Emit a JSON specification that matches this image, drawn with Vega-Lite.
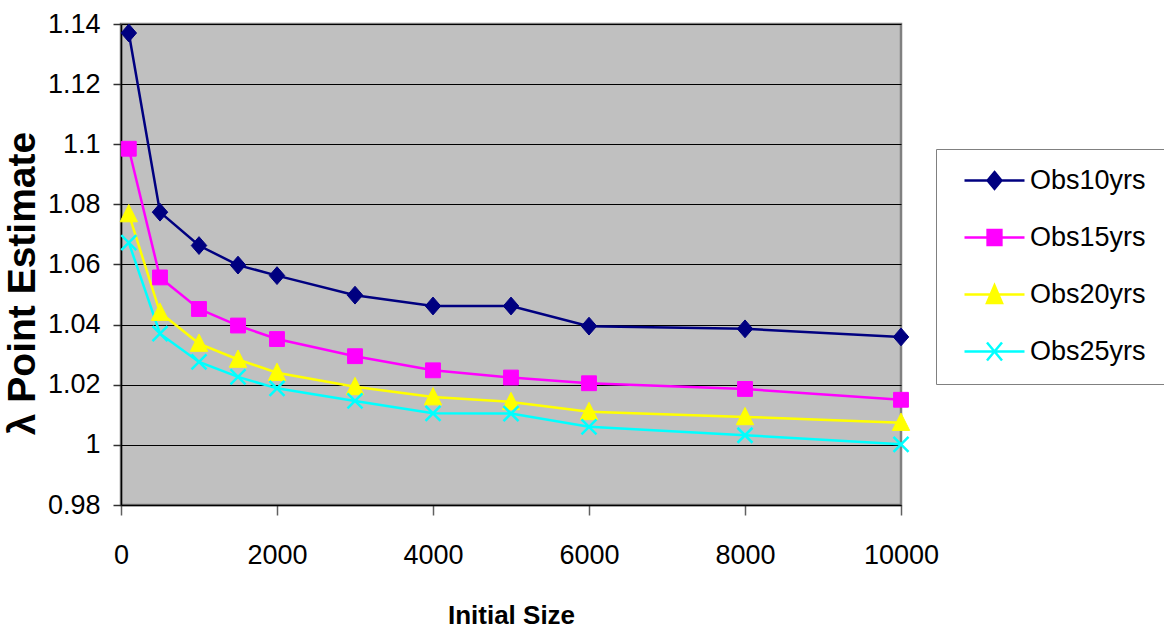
{
  "$schema": "https://vega.github.io/schema/vega-lite/v6.json",
  "autosize": "none",
  "width": 780,
  "height": 481,
  "padding": {"left": 121, "top": 24, "right": 263, "bottom": 127},
  "background": "white",
  "config": {
    "view": {"fill": "#c0c0c0", "stroke": "#808080", "strokeWidth": 2.5},
    "font": "Liberation Sans, Arial"
  },
  "data": {
    "values": [
      {"series": "Obs10yrs", "size": 100, "lambda": 1.137},
      {"series": "Obs10yrs", "size": 500, "lambda": 1.0774},
      {"series": "Obs10yrs", "size": 1000, "lambda": 1.0663},
      {"series": "Obs10yrs", "size": 1500, "lambda": 1.0598},
      {"series": "Obs10yrs", "size": 2000, "lambda": 1.0563},
      {"series": "Obs10yrs", "size": 3000, "lambda": 1.0498},
      {"series": "Obs10yrs", "size": 4000, "lambda": 1.0462},
      {"series": "Obs10yrs", "size": 5000, "lambda": 1.0462},
      {"series": "Obs10yrs", "size": 6000, "lambda": 1.0395},
      {"series": "Obs10yrs", "size": 8000, "lambda": 1.0386},
      {"series": "Obs10yrs", "size": 10000, "lambda": 1.0359},
      {"series": "Obs15yrs", "size": 100, "lambda": 1.0985},
      {"series": "Obs15yrs", "size": 500, "lambda": 1.0557},
      {"series": "Obs15yrs", "size": 1000, "lambda": 1.0452},
      {"series": "Obs15yrs", "size": 1500, "lambda": 1.0397},
      {"series": "Obs15yrs", "size": 2000, "lambda": 1.0352},
      {"series": "Obs15yrs", "size": 3000, "lambda": 1.0295},
      {"series": "Obs15yrs", "size": 4000, "lambda": 1.0248},
      {"series": "Obs15yrs", "size": 5000, "lambda": 1.0224},
      {"series": "Obs15yrs", "size": 6000, "lambda": 1.0205},
      {"series": "Obs15yrs", "size": 8000, "lambda": 1.0186},
      {"series": "Obs15yrs", "size": 10000, "lambda": 1.015},
      {"series": "Obs20yrs", "size": 100, "lambda": 1.0768},
      {"series": "Obs20yrs", "size": 500, "lambda": 1.044},
      {"series": "Obs20yrs", "size": 1000, "lambda": 1.0337},
      {"series": "Obs20yrs", "size": 1500, "lambda": 1.0284},
      {"series": "Obs20yrs", "size": 2000, "lambda": 1.024},
      {"series": "Obs20yrs", "size": 3000, "lambda": 1.0193},
      {"series": "Obs20yrs", "size": 4000, "lambda": 1.0159},
      {"series": "Obs20yrs", "size": 5000, "lambda": 1.0143},
      {"series": "Obs20yrs", "size": 6000, "lambda": 1.011},
      {"series": "Obs20yrs", "size": 8000, "lambda": 1.0093},
      {"series": "Obs20yrs", "size": 10000, "lambda": 1.0074},
      {"series": "Obs25yrs", "size": 100, "lambda": 1.0673},
      {"series": "Obs25yrs", "size": 500, "lambda": 1.037},
      {"series": "Obs25yrs", "size": 1000, "lambda": 1.0276},
      {"series": "Obs25yrs", "size": 1500, "lambda": 1.0226},
      {"series": "Obs25yrs", "size": 2000, "lambda": 1.0188},
      {"series": "Obs25yrs", "size": 3000, "lambda": 1.0146},
      {"series": "Obs25yrs", "size": 4000, "lambda": 1.0105},
      {"series": "Obs25yrs", "size": 5000, "lambda": 1.0104},
      {"series": "Obs25yrs", "size": 6000, "lambda": 1.006},
      {"series": "Obs25yrs", "size": 8000, "lambda": 1.0032},
      {"series": "Obs25yrs", "size": 10000, "lambda": 1.0002}
    ]
  },
  "encoding": {
    "x": {
      "field": "size",
      "type": "quantitative",
      "title": "Initial Size",
      "scale": {"domain": [0, 10000], "nice": false, "zero": false},
      "axis": {
        "values": [0, 2000, 4000, 6000, 8000, 10000],
        "format": "d",
        "grid": false,
        "domainColor": "#000000",
        "domainWidth": 1.5,
        "tickColor": "#606060",
        "tickSize": 10,
        "tickWidth": 1.5,
        "labelFontSize": 27,
        "labelColor": "#000000",
        "labelPadding": 27,
        "labelFlush": false,
        "titleFontSize": 26,
        "titleFontWeight": "bold",
        "titleColor": "#000000",
        "titlePadding": 34
      }
    },
    "y": {
      "field": "lambda",
      "type": "quantitative",
      "title": "λ Point Estimate",
      "scale": {"domain": [0.98, 1.14], "nice": false, "zero": false},
      "axis": {
        "values": [0.98, 1.0, 1.02, 1.04, 1.06, 1.08, 1.1, 1.12, 1.14],
        "format": ".2~f",
        "grid": true,
        "gridColor": "#000000",
        "gridWidth": 1,
        "gridOpacity": 1,
        "domainColor": "#000000",
        "domainWidth": 1.5,
        "tickColor": "#303030",
        "tickSize": 8,
        "tickWidth": 1.5,
        "labelFontSize": 27,
        "labelColor": "#000000",
        "labelPadding": 13,
        "labelFlush": false,
        "titleFontSize": 39,
        "titleFontWeight": "bold",
        "titleColor": "#000000",
        "titleAngle": 270,
        "titleBaseline": "middle",
        "titleX": -99,
        "titleY": 259
      }
    }
  },
  "layer": [
    {
      "mark": {"type": "line", "interpolate": "linear", "strokeWidth": 2.5},
      "encoding": {
        "color": {
          "field": "series",
          "type": "nominal",
          "scale": {
            "domain": ["Obs10yrs", "Obs15yrs", "Obs20yrs", "Obs25yrs"],
            "range": ["#000080", "#ff00ff", "#ffff00", "#00ffff"]
          }
        }
      }
    },
    {
      "mark": {"type": "point", "filled": true, "opacity": 1},
      "encoding": {
        "color": {
          "field": "series",
          "type": "nominal",
          "scale": {
            "domain": ["Obs10yrs", "Obs15yrs", "Obs20yrs", "Obs25yrs"],
            "range": ["#000080", "#ff00ff", "#ffff00", "#00ffff"]
          }
        },
        "shape": {
          "condition": [
            {"test": "datum.series === 'Obs10yrs'", "value": "M0,-1.15L1,0L0,1.15L-1,0Z"},
            {"test": "datum.series === 'Obs15yrs'", "value": "M-1,-1H1V1H-1Z"},
            {"test": "datum.series === 'Obs20yrs'", "value": "M0,-1.1L1,0.9H-1Z"}
          ],
          "value": "M-1,-1L1,1M-1,1L1,-1"
        },
        "size": {
          "condition": [
            {"test": "datum.series === 'Obs10yrs'", "value": 240},
            {"test": "datum.series === 'Obs15yrs'", "value": 220},
            {"test": "datum.series === 'Obs20yrs'", "value": 300}
          ],
          "value": 225
        },
        "stroke": {
          "condition": [
            {"test": "datum.series === 'Obs10yrs'", "value": "#000080"},
            {"test": "datum.series === 'Obs15yrs'", "value": "#ff00ff"},
            {"test": "datum.series === 'Obs20yrs'", "value": "#ffff00"}
          ],
          "value": "#00ffff"
        },
        "strokeWidth": {
          "condition": {"test": "datum.series === 'Obs25yrs'", "value": 2.5},
          "value": 1
        }
      }
    },
    {
      "transform": [{"filter": "false"}],
      "mark": {"type": "point", "filled": true},
      "encoding": {
        "color": {
          "field": "series",
          "type": "nominal",
          "scale": {
            "domain": ["Obs10yrs", "Obs15yrs", "Obs20yrs", "Obs25yrs"],
            "range": ["#000080", "#ff00ff", "#ffff00", "#00ffff"]
          }
        },
        "stroke": {
          "field": "series",
          "type": "nominal",
          "scale": {
            "domain": ["Obs10yrs", "Obs15yrs", "Obs20yrs", "Obs25yrs"],
            "range": ["#000080", "#ff00ff", "#ffff00", "#00ffff"]
          }
        },
        "shape": {
          "field": "series",
          "type": "nominal",
          "scale": {
            "domain": ["Obs10yrs", "Obs15yrs", "Obs20yrs", "Obs25yrs"],
            "range": [
              "M-1,0H19M9,-2.8L11.3,0L9,2.8L6.7,0Z",
              "M-1,0H19M6.7,-2.5H11.3V2.5H6.7Z",
              "M-1,0H19M9,-3L11.5,2.8H6.5Z",
              "M-1,0H19M6.5,-3L11.5,3M6.5,3L11.5,-3"
            ]
          },
          "legend": {
            "title": null,
            "orient": "none",
            "legendX": 815,
            "legendY": 125,
            "strokeColor": "#808080",
            "fillColor": "#ffffff",
            "padding": 18,
            "symbolSize": 36,
            "symbolOpacity": 1,
            "symbolStrokeWidth": 2.5,
            "labelFontSize": 27,
            "labelColor": "#000000",
            "labelOffset": 49,
            "rowPadding": 29,
            "labelLimit": 300,
            "encode": {
              "legend": {"update": {"strokeWidth": {"value": 2}}}
            }
          }
        }
      }
    }
  ]
}
